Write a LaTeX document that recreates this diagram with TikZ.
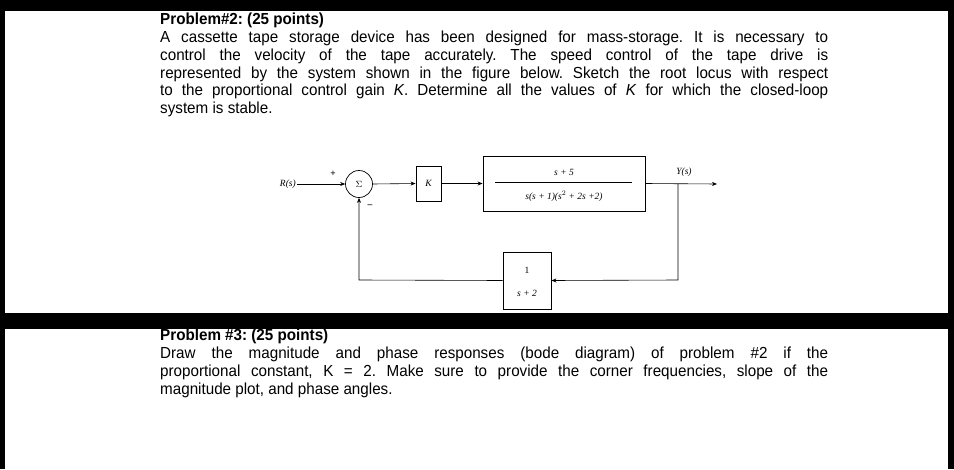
\documentclass[tikz,border=0pt]{standalone}
\usepackage{fontspec}
\setmainfont{Liberation Sans}[FakeStretch=0.95]
\newfontfamily\diagfont{Liberation Serif}
\usetikzlibrary{arrows.meta}
\frenchspacing
\begin{document}
\begin{tikzpicture}[x=1pt,y=-1pt,
  blk/.style={draw,line width=0.9pt,inner sep=0pt},
  conn/.style={line width=0.6pt,-{Stealth[length=5pt,width=4pt]}},
  para/.style={anchor=north west,inner sep=0pt,text width=668pt,align=justify,font=\fontsize{16}{17.8}\selectfont},
  lab/.style={font=\diagfont\fontsize{9.5}{10}\selectfont\itshape,inner sep=1pt}]
\useasboundingbox (0,0) rectangle (954,469);
\fill[white] (0,0) rectangle (954,469);
\fill[black] (0,0) rectangle (954,11);
\fill[black] (0,0) rectangle (5,469);
\fill[black] (948,0) rectangle (954,469);
\fill[black] (5,313) rectangle (948,329);
\node[para] (t1) at (160,13) {\textbf{Problem\#2: (25 points)}\\
A cassette tape storage device has been designed for mass-storage. It is necessary to\linebreak control the velocity of the tape accurately. The speed control of the tape drive is\linebreak represented by the system shown in the figure below. Sketch the root locus with respect\linebreak to the proportional control gain \textit{K}. Determine all the values of \textit{K} for which the closed-loop\linebreak system is stable.};
\begin{scope}
\clip (5,329) rectangle (948,469);
\node[para] (t2) at (160,329) {\textbf{Problem \#3: (25 points)}\\
Draw the magnitude and phase responses (bode diagram) of problem \#2 if the\linebreak proportional constant, K = 2. Make sure to provide the corner frequencies, slope of the\linebreak magnitude plot, and phase angles.};
\end{scope}
% diagram
\node[lab,anchor=east] (R) at (297,184) {R(s)};
\node[draw,circle,line width=0.7pt,minimum size=27pt,inner sep=0pt,font=\diagfont\fontsize{9.5}{10}\selectfont] (S) at (359,184) {$\Sigma$};
\node[lab] (plus) at (333,174) {\upshape\bfseries +};
\node[lab] (minus) at (370,206) {\upshape\bfseries \textendash};
\node[blk,minimum width=25pt,minimum height=35pt,lab] (K) at (428.5,183.5) {K};
\node[blk,minimum width=162pt,minimum height=55pt] (G) at (564,183.5) {};
\node[lab] (num) at (564,172) {s + 5};
\draw[line width=0.5pt] (495,182) -- (632,182);
\node[lab] (den) at (564,196) {s(s + 1)(s$^2$ + 2s +2)};
\node[blk,minimum width=48pt,minimum height=57pt] (H) at (527,280.5) {};
\node[lab] (h1) at (527,270) {\upshape 1};
\node[lab] (h2) at (527,293) {s + 2};
\coordinate (out) at (717,184);
\coordinate (br) at (678,184);
\coordinate (brd) at (678,280);
\coordinate (fl) at (359,280);
\node[lab] (Y) at (684,172) {Y(s)};
\draw[conn] (R.east) -- (S.west);
\draw[conn] (S.east) -- (K.west);
\draw[conn] (K.east) -- (G.west);
\draw[conn] (G.east) -- (out);
\draw[conn] (br) -- (brd) -- (H.east);
\draw[conn] (H.west) -- (fl) -- (S.south);
\end{tikzpicture}
\end{document}
